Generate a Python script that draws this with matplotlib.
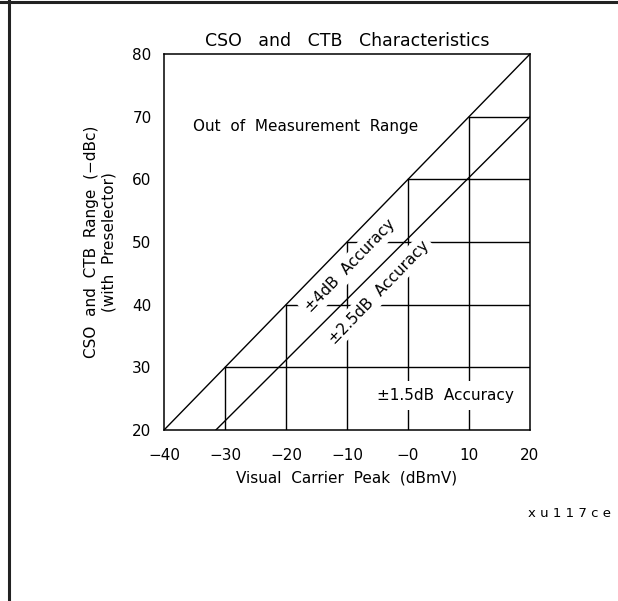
import matplotlib
matplotlib.use("Agg")
import matplotlib.pyplot as plt
from matplotlib.lines import Line2D

# axis ticks
x_ticks = [-40, -30, -20, -10, 0, 10, 20]
x_tick_labels = ["\u221240", "\u221230", "\u221220", "\u221210", "\u22120", "10", "20"]
y_ticks = [20, 30, 40, 50, 60, 70, 80]

# boundary lines (x pairs, y pairs)
upper_x = [-40, 20]
upper_y = [20, 80]
accuracy_x = [-31.5, 20]
accuracy_y = [20, 70]

# staircase corners sitting on the upper boundary
step_x = [-30, -20, -10, 0, 10]
step_y = [30, 40, 50, 60, 70]

plt.rcParams["font.family"] = "DejaVu Sans"
fig = plt.figure(figsize=(6.18, 6.01), dpi=100)
ax = fig.add_axes([0.2654, 0.2845, 0.5922, 0.6256])

lw = 1.0
ax.plot(upper_x, upper_y, color="black", lw=lw)
ax.plot(accuracy_x, accuracy_y, color="black", lw=lw)
for sx, sy in zip(step_x, step_y):
    ax.plot([sx, sx], [20, sy], color="black", lw=lw)
    ax.plot([sx, 20], [sy, sy], color="black", lw=lw)

ax.set_xlim(-40, 20)
ax.set_ylim(20, 80)
ax.set_xticks(x_ticks)
ax.set_xticklabels(x_tick_labels)
ax.set_yticks(y_ticks)
ax.tick_params(length=0, labelsize=11, pad=9)
ax.tick_params(axis="x", pad=13)
for s in ax.spines.values():
    s.set_linewidth(1.1)

ax.set_title("CSO   and   CTB   Characteristics", fontsize=12.5, pad=6)
ax.set_xlabel("Visual  Carrier  Peak  (dBmV)", fontsize=11, labelpad=5)
ax.set_ylabel("CSO  and  CTB  Range  (\u2212dBc)\n(with  Preselector)", fontsize=11,
              labelpad=11, linespacing=1.2)

box = dict(facecolor="white", edgecolor="none", pad=2.5)
ax.text(-35.3, 68.5, "Out  of  Measurement  Range", fontsize=11, ha="left", va="center")
ax.text(-9.5, 46.2, "\u00b14dB  Accuracy", fontsize=11, rotation=46,
        rotation_mode="anchor", ha="center", va="center", bbox=box, zorder=5)
ax.text(-4.8, 42.0, "\u00b12.5dB  Accuracy", fontsize=11, rotation=46,
        rotation_mode="anchor", ha="center", va="center", bbox=box, zorder=5)
ax.text(6.1, 25.5, "\u00b11.5dB  Accuracy", fontsize=11, ha="center", va="center",
        bbox=dict(facecolor="white", edgecolor="none", pad=5), zorder=5)

fig.text(0.988, 0.146, "x u 1 1 7 c e", fontsize=9.5, ha="right", va="center")

# page frame
fig.add_artist(Line2D([0, 1], [0.9965, 0.9965], transform=fig.transFigure,
                      color="#222222", lw=2.2))
fig.add_artist(Line2D([0.0146, 0.0146], [0, 1], transform=fig.transFigure,
                      color="#222222", lw=2.2))

fig.savefig("out.png", dpi=100)
